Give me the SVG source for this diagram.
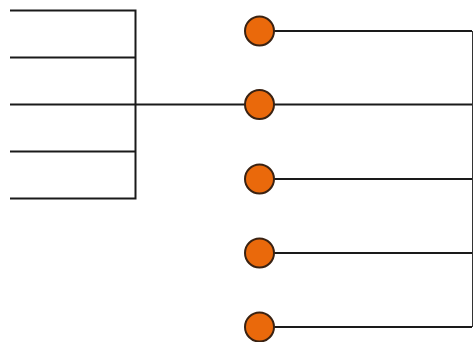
<svg xmlns="http://www.w3.org/2000/svg" width="473" height="342" viewBox="0 0 473 342">
<style>
.w{fill:none;stroke:#1a1a1a;stroke-width:2;stroke-linecap:butt}
.t{fill:none;stroke:#1a1a1a;stroke-width:2}
.v{fill:none;stroke:#333;stroke-width:1}
.n{fill:#EA690B;stroke:#3a2212;stroke-width:2}
</style>
<rect width="473" height="342" fill="#fff"/>
<g id="connectors">
<path class="w" d="M10 10.5H135.5V198.5H10M10 57.5H135.5M10 104.5H245M10 151.5H135.5"/>
<path class="t" d="M273 31H472M273 104.5H472M273 179H472M273 253H472M273 327H472"/>
<path class="v" d="M472.5 31V327"/>
</g>
<g id="n1"><circle class="n" cx="259.5" cy="31" r="14.5"/></g>
<g id="n2"><circle class="n" cx="259.5" cy="104.5" r="14.5"/></g>
<g id="n3"><circle class="n" cx="259.5" cy="179" r="14.5"/></g>
<g id="n4"><circle class="n" cx="259.5" cy="253" r="14.5"/></g>
<g id="n5"><circle class="n" cx="259.5" cy="327" r="14.5"/></g>
</svg>
